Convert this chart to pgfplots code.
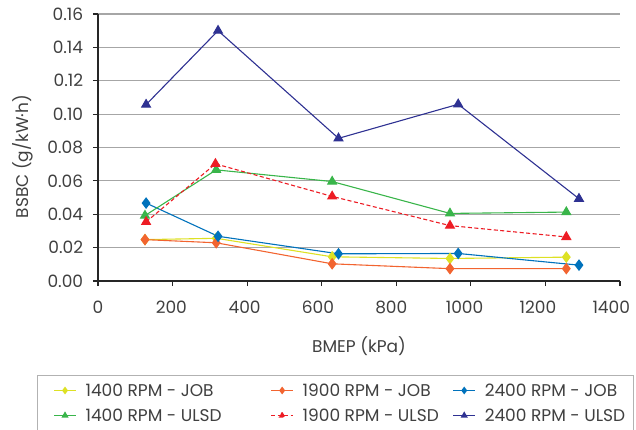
\documentclass[border=0pt]{standalone}
\usepackage{fontspec}
\setmainfont{Poppins}
\usepackage{pgfplots}
\pgfplotsset{compat=1.18}

\definecolor{cyel}{HTML}{DDE124}
\definecolor{cora}{HTML}{F26430}
\definecolor{cblu}{HTML}{0072BC}
\definecolor{cgrn}{HTML}{39B54A}
\definecolor{cred}{HTML}{ED1C24}
\definecolor{cnav}{HTML}{2E3192}
\definecolor{txt}{HTML}{404040}

\begin{document}
\fontsize{17}{20}\selectfont
\begin{tikzpicture}
\useasboundingbox (-98pt,-148pt) rectangle (538pt,281pt);
\begin{axis}[
  at={(0pt,0pt)}, anchor=south west,
  scale only axis, width=522pt, height=267pt,
  xmin=0, xmax=1400, ymin=0, ymax=0.16,
  xtick={0,200,...,1400},
  ytick={0,0.02,...,0.16},
  axis lines=left,
  axis line style={-, color=black!85, line width=1.2pt},
  tick align=outside,
  major tick length=5pt,
  tick style={black!85, line width=1.2pt},
  ymajorgrids,
  grid style={black!35, line width=1.2pt},
  /pgf/number format/assume math mode=true,
  y tick label style={xshift=-4pt, /pgf/number format/.cd, fixed, fixed zerofill, precision=2},
  x tick label style={yshift=-9pt, /pgf/number format/.cd, set thousands separator={}},
  xticklabel={\pgfmathsetlengthmacro\tks{-2.5*\ticknum}\hspace*{\tks}\pgfmathprintnumber{\tick}},
  ticklabel style={text=txt},
  label style={text=txt},
  xlabel={BMEP (kPa)},
  ylabel={BSBC (g/kW·h)},
  xlabel style={at={(axis description cs:0.5,-0.243)}, anchor=center},
  ylabel style={at={(axis description cs:-0.1437,0.466)}, anchor=center},
  legend columns=3,
  legend cell align=left,
  legend style={at={(axis description cs:-0.1169,-0.352)}, anchor=north west,
    draw=black!30, line width=1pt, text=txt,
    inner xsep=16pt, inner ysep=9pt, column sep=0pt, row sep=13pt,
    nodes={inner sep=0pt, text height=12pt, text depth=0pt}},
  legend image code/.code={
    \draw[mark repeat=2, mark phase=2, mark options={scale=0.6}]
      plot coordinates {(0pt,0pt) (11pt,0pt) (22pt,0pt)};},
  every axis plot/.append style={line width=1.1pt},
]
% 1400 RPM - JOB
\addplot[cyel, mark=diamond*, mark size=5pt] coordinates {
  (126,0.0248) (317,0.0256) (628,0.0145) (944,0.0135) (1256,0.0143)};
% 1900 RPM - JOB
\addplot[cora, mark=diamond*, mark size=5pt] coordinates {
  (126,0.0248) (317,0.0229) (628,0.0103) (944,0.0074) (1256,0.0074)};
% 2400 RPM - JOB
\addplot[cblu, mark=diamond*, mark size=5pt] coordinates {
  (129,0.0467) (322,0.0268) (645,0.0163) (966,0.0165) (1290,0.0095)};
% 1400 RPM - ULSD
\addplot[cgrn, mark=triangle*, mark size=5pt] coordinates {
  (126,0.0392) (317,0.0666) (628,0.0596) (944,0.0405) (1256,0.0413)};
% 1900 RPM - ULSD
\addplot[cred, dash pattern=on 4pt off 2.5pt, mark=triangle*, mark size=5pt,
  mark options={solid}] coordinates {
  (129,0.0354) (315,0.0702) (628,0.0507) (944,0.0332) (1256,0.0264)};
% 2400 RPM - ULSD
\addplot[cnav, mark=triangle*, mark size=5pt] coordinates {
  (129,0.1057) (322,0.150) (645,0.0855) (966,0.1059) (1290,0.0493)};
\addlegendentry{\hspace{9pt}\makebox[185pt][l]{1400 RPM - JOB}}
\addlegendentry{\hspace{9pt}\makebox[150pt][l]{1900 RPM - JOB}}
\addlegendentry{\hspace{9pt}\makebox[133pt][l]{2400 RPM - JOB}}
\addlegendentry{\hspace{9pt}\makebox[185pt][l]{1400 RPM - ULSD}}
\addlegendentry{\hspace{9pt}\makebox[150pt][l]{1900 RPM - ULSD}}
\addlegendentry{\hspace{9pt}\makebox[133pt][l]{2400 RPM - ULSD}}
\end{axis}
\end{tikzpicture}
\end{document}
